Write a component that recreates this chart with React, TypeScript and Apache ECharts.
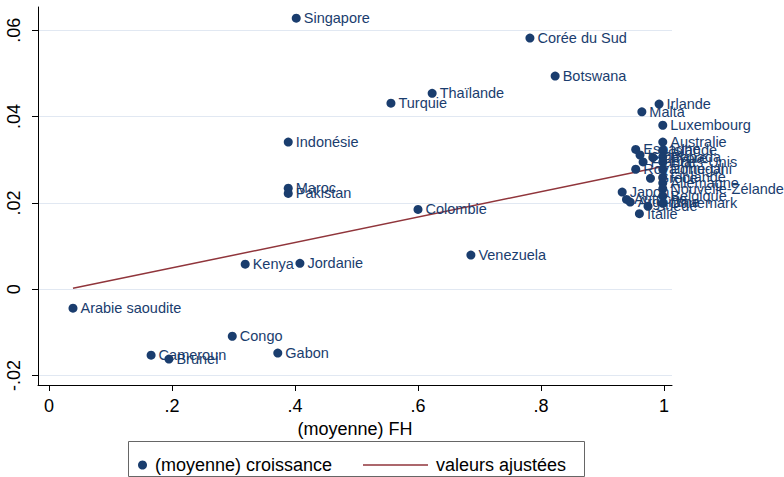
import React, { useEffect, useRef } from "react";
import * as echarts from "echarts";

const countries = [
  "Singapore", "Corée du Sud", "Botswana", "Thaïlande", "Turquie", "Irlande", "Malta",
  "Luxembourg", "Indonésie", "Australie", "Espagne", "Islande", "Israël", "Chypre",
  "Canada", "France", "États-Unis", "Royaume-Uni", "Portugal", "Grèce", "Finlande",
  "Allemagne", "Nouvelle-Zélande", "Japon", "Belgique", "Autriche", "Argentine", "Suède",
  "Danemark", "Italie", "Maroc", "Pakistan", "Colombie", "Venezuela", "Kenya", "Jordanie",
  "Arabie saoudite", "Congo", "Cameroun", "Brunei", "Gabon",
];
const fh = [
  0.402, 0.782, 0.823, 0.623, 0.556, 0.992, 0.964,
  0.998, 0.389, 0.998, 0.954, 0.998, 0.961, 0.982,
  0.998, 0.966, 0.998, 0.954, 0.998, 0.978, 0.998,
  0.998, 0.998, 0.932, 0.998, 0.939, 0.945, 0.974,
  0.998, 0.96, 0.389, 0.389, 0.6, 0.686, 0.319, 0.408,
  0.039, 0.298, 0.166, 0.195, 0.372,
];
const croissance = [
  0.0628, 0.0582, 0.0494, 0.0454, 0.0431, 0.0429, 0.0411,
  0.038, 0.0341, 0.0341, 0.0324, 0.0322, 0.0311, 0.0305,
  0.0307, 0.0295, 0.0295, 0.0278, 0.0278, 0.0257, 0.0259,
  0.0246, 0.0233, 0.0225, 0.0216, 0.0208, 0.0202, 0.0192,
  0.0199, 0.0175, 0.0234, 0.0222, 0.0185, 0.0079, 0.0058, 0.006,
  -0.0044, -0.0109, -0.0153, -0.0162, -0.0148,
];
const fitX = [0.039, 1.0];
const fitY = [0.0002, 0.0285];
const xTicks = [0, 0.2, 0.4, 0.6, 0.8, 1];
const yTicks = [-0.02, 0, 0.02, 0.04, 0.06];

const FONT = "'Liberation Sans', Arial, sans-serif";
const NAVY = "#1a3d6e";
const RED = "#90353b";

const fmt = (v: number) => {
  if (Math.abs(v) < 1e-9) return "0";
  const s = (Math.round(v * 100) / 100).toString();
  return s.replace("0.", ".");
};

export default function App() {
  const ref = useRef<HTMLDivElement>(null);
  useEffect(() => {
    const chart = echarts.init(ref.current!, null, { renderer: "svg" });
    const scatterData = countries.map((c, i) => ({ name: c, value: [fh[i], croissance[i]] }));
    chart.setOption({
      animation: false,
      backgroundColor: "#ffffff",
      textStyle: { fontFamily: FONT },
      grid: { left: 38, top: 7, right: 112, bottom: 92 },
      xAxis: {
        type: "value",
        min: -0.0179,
        max: 1.013,
        name: "(moyenne) FH",
        nameLocation: "middle",
        nameGap: 31,
        nameTextStyle: { fontSize: 18, color: "#000", fontFamily: FONT },
        axisLine: { show: true, onZero: false, lineStyle: { color: "#000", width: 1 } },
        axisTick: { show: true, length: 6, customValues: xTicks, lineStyle: { color: "#000" } },
        axisLabel: { customValues: xTicks, formatter: fmt, fontSize: 18, color: "#000", margin: 12, fontFamily: FONT },
        splitLine: { show: false },
      },
      yAxis: {
        type: "value",
        min: -0.0222,
        max: 0.0654,
        axisLine: { show: true, onZero: false, lineStyle: { color: "#000", width: 1 } },
        axisTick: { show: true, length: 6, customValues: yTicks, lineStyle: { color: "#000" } },
        axisLabel: { customValues: yTicks, formatter: fmt, fontSize: 18, color: "#000", margin: 15, rotate: 90, fontFamily: FONT },
        splitLine: { show: false },
      },
      legend: [
        {
          data: [{ name: "(moyenne) croissance", icon: "circle" }],
          left: 133,
          top: 451,
          itemWidth: 9,
          itemHeight: 9,
          itemGap: 10,
          textStyle: { fontSize: 18, color: "#000", fontFamily: FONT, padding: [0, 0, 0, 3] },
        },
        {
          data: [{ name: "valeurs ajustées", icon: "rect" }],
          left: 358,
          top: 451,
          itemWidth: 65,
          itemHeight: 1.5,
          textStyle: { fontSize: 18, color: "#000", fontFamily: FONT, padding: [0, 0, 0, 3] },
        },
      ],
      graphic: [
        {
          type: "rect",
          shape: { x: 128.5, y: 441.5, width: 456, height: 35 },
          style: { fill: "none", stroke: "#666", lineWidth: 1 },
          silent: true,
        },
      ],
      series: [
        {
          name: "(moyenne) croissance",
          type: "scatter",
          symbol: "circle",
          symbolSize: 9,
          itemStyle: { color: NAVY, opacity: 1 },
          data: scatterData,
          label: {
            show: true,
            position: "right",
            distance: 3,
            formatter: (p: any) => p.name,
            fontSize: 14.5,
            color: NAVY,
            fontFamily: FONT,
          },
          markLine: {
            silent: true,
            symbol: ["none", "none"],
            label: { show: false },
            lineStyle: { color: "#e1e8f2", width: 1, type: "solid" },
            data: yTicks.map((v) => ({ yAxis: v })),
            z: 0,
          },
          z: 3,
        },
        {
          name: "valeurs ajustées",
          type: "line",
          data: fitX.map((x, i) => [x, fitY[i]]),
          symbol: "none",
          showSymbol: false,
          lineStyle: { color: RED, width: 1.5 },
          itemStyle: { color: RED },
          z: 2,
        },
      ],
    });
    return () => chart.dispose();
  }, []);
  return <div ref={ref} style={{ position: "fixed", left: 0, top: 0, width: 784, height: 477 }} />;
}
